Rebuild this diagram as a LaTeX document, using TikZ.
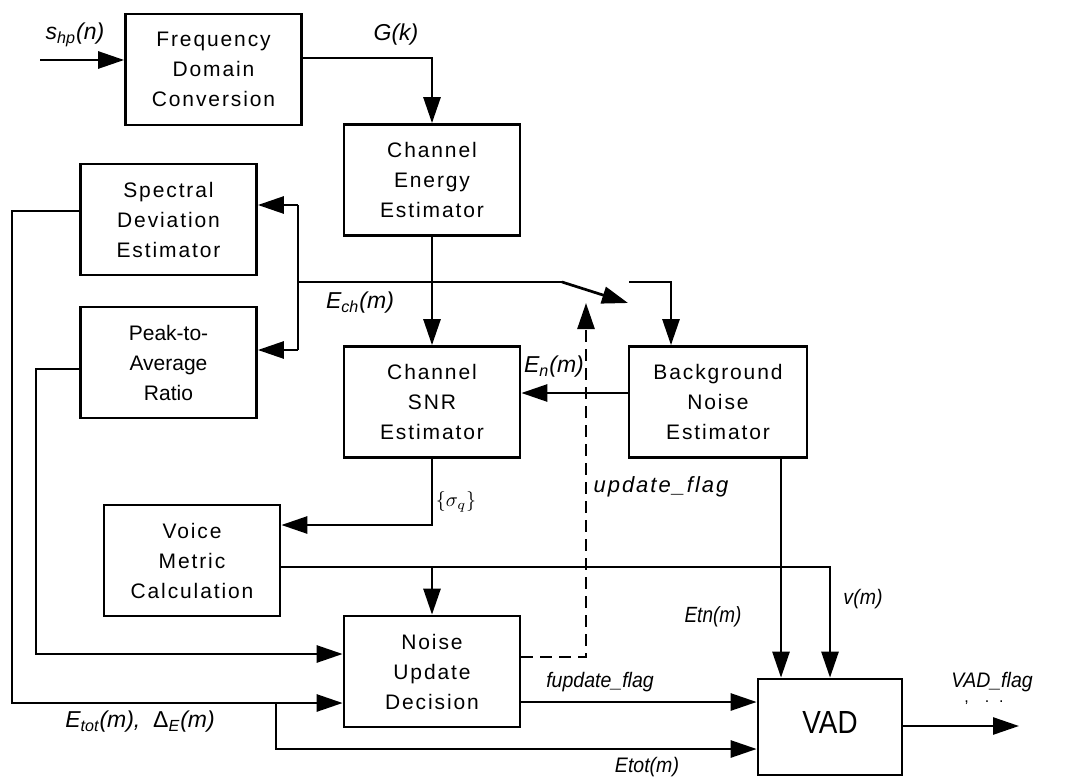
\documentclass[tikz,border=0pt]{standalone}
\usepackage{fontspec}
\setmainfont{Liberation Sans}
\newfontfamily\boxfont[LetterSpace=9]{Liberation Sans}
\newfontfamily\narrowit[FakeStretch=0.93]{Liberation Sans Italic}
\newfontfamily\narrowerit[FakeStretch=0.86]{Liberation Sans Italic}
\newfontfamily\narrowup[FakeStretch=0.87]{Liberation Sans}
\usetikzlibrary{arrows.meta,positioning}

\tikzset{%
block/.style={
    rectangle, draw,
    minimum width=88pt, minimum height=55.5pt,
    align=center, inner sep=0pt,
    font=\boxfont\fontsize{10.5}{15}\selectfont
},
arr/.style={-{Triangle[length=13pt,width=8.5pt]}},
flagline/.style={dash pattern=on 6pt off 3.5pt},
lbl/.style={inner sep=0pt, font=\fontsize{11.5}{13}\selectfont\itshape},
nlbl/.style={inner sep=0pt, font=\narrowit\fontsize{10.5}{12}\selectfont},
}

\begin{document}
\begin{tikzpicture}[x=0.5pt,y=-0.5pt,line width=1.35pt]
\useasboundingbox (0,0) rectangle (1076,781);

% blocks
\node[block] (freq) at (213.5,69.5) {Frequency\\Domain\\Conversion};
\node[block] (energy) at (432,180) {Channel\\Energy\\Estimator};
\node[block] (spec) at (168.5,219.5) {Spectral\\Deviation\\Estimator};
\node[block, font=\fontsize{10.5}{15}\selectfont] (peak) at (168.5,362.5) {Peak-to-\\Average\\Ratio};
\node[block] (snr) at (432,402) {Channel\\SNR\\Estimator};
\node[block, minimum width=89pt] (noise) at (718,402) {Background\\Noise\\Estimator};
\node[block] (voice) at (192,560.5) {Voice\\Metric\\Calculation};
\node[block] (upd) at (432,671.5) {Noise\\Update\\Decision};
\node[block, minimum width=72pt, minimum height=48pt, font=\narrowup\fontsize{16}{18}\selectfont] (vad) at (830,727) {\raisebox{5pt}{VAD}};

% junctions
\coordinate (in) at (40,60);
\coordinate (gk) at (432,58);
\coordinate (bt) at (298,205);
\coordinate (bb) at (298,350);
\coordinate (sw) at (562,282);
\coordinate (swtip) at (628,303);
\coordinate (swout) at (629,282);
\coordinate (flagtip) at (586,303);
\coordinate (vm) at (829,567);
\coordinate (lt) at (12,211);
\coordinate (lb) at (12,703);
\coordinate (pl) at (36,369);
\coordinate (pb) at (36,654);
\coordinate (etb) at (276,703);
\coordinate (ete) at (276,749);
\coordinate (out) at (1019,726);
\coordinate (etn) at ([xshift=31.5pt]noise.south);
\coordinate (fu) at ([yshift=-15.25pt]upd.east);

% connectors
\draw[arr] (in) -- (in -| freq.west);
\draw[arr] (freq.east |- gk) -| (energy.north);
\draw[arr] (energy.south) -- (snr.north);
\draw (bt) -- (bb);
\draw[arr] (bt) -- (bt -| spec.east);
\draw[arr] (bb) -- (bb -| peak.east);
\draw (bt |- sw) -- (sw);
\draw[arr] (sw) -- (swtip);
\draw[arr] (swout) -| ([xshift=-23.5pt]noise.north);
\draw[arr] ([yshift=4.5pt]noise.west) -- ([yshift=4.5pt]snr.east);
\draw[arr, flagline] ([yshift=7.25pt]upd.east) -| (flagtip);
\draw[arr] (snr.south) |- ([yshift=17.75pt]voice.east);
\draw[arr] ([yshift=-3.25pt]voice.east) -| (vad.north);
\draw[arr] (upd.north |- vm) -- (upd.north);
\draw[arr] (etn) -- (etn |- vad.north);
\draw[arr] (fu) -- (fu -| vad.west);
\draw[arr] ([yshift=4.25pt]spec.west) -- (lt) -- (lb) -- (lb -| upd.west);
\draw[arr] (etb) -- (ete) -- (ete -| vad.west);
\draw[arr] ([yshift=-3.25pt]peak.west) -- (pl) -- (pb) -- (pb -| upd.west);
\draw[arr] (vad.east |- out) -- (out);

% labels
\node[lbl] (shp) at (75,35) {s\textsubscript{hp}(n)};
\node[lbl] (gklbl) at (396,35) {G(k)};
\node[lbl] (ech) at (360,303) {E\textsubscript{ch}(m)};
\node[lbl] (en) at (554,367) {E\textsubscript{n}(m)};
\node[lbl, font=\boxfont\fontsize{11}{12}\selectfont\itshape] (flag) at (661,487) {update\_flag};
\node[inner sep=0pt] (sig) at (456,502) {$\{\sigma_q\}$};
\node[nlbl, font=\narrowerit\fontsize{11}{12}\selectfont] (etnlbl) at (713,617) {Etn(m)};
\node[nlbl] (vlbl) at (863,599) {v(m)};
\node[nlbl] (fulbl) at (600,682) {fupdate\_flag};
\node[nlbl] (etlbl) at (647,767) {Etot(m)};
\node[lbl] (etot) at (140,722) {E\textsubscript{tot}(m),\ \ {\upshape Δ}\textsubscript{E}(m)};
\node[nlbl] (vadflag) at (992,682) {VAD\_flag};
\node[inner sep=0pt, font=\fontsize{8}{8}\selectfont] (dots) at (984,703) {,\hspace{8pt}.\hspace{5pt}.};
\end{tikzpicture}
\end{document}
